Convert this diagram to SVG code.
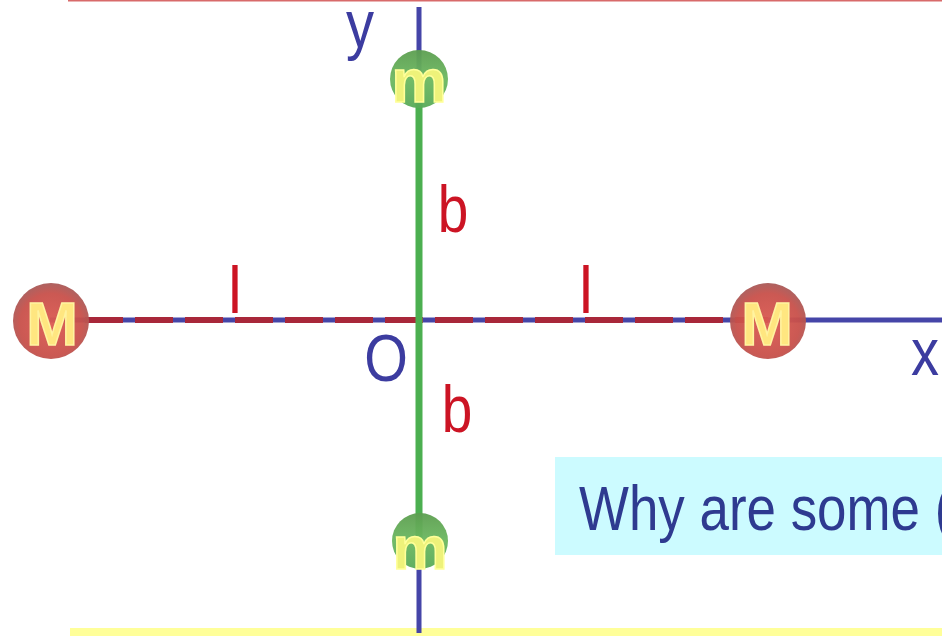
<svg xmlns="http://www.w3.org/2000/svg" width="942" height="636" viewBox="0 0 942 636">
<defs>
<radialGradient id="gM" cx="50%" cy="55%" r="55%">
<stop offset="0" stop-color="#dc5a52"/>
<stop offset="0.75" stop-color="#c8504a"/>
<stop offset="1" stop-color="#a85a58"/>
</radialGradient>
<linearGradient id="gm" x1="0" y1="0" x2="0" y2="1">
<stop offset="0" stop-color="#5c9e50"/>
<stop offset="0.5" stop-color="#6cb860"/>
<stop offset="1" stop-color="#58aa58"/>
</linearGradient>
<style>
.axis{stroke:#4545a8;stroke-width:5;fill:none}
.rod{stroke:#a8283a;stroke-width:6;stroke-dasharray:38 12;fill:none}
.grod{stroke:#4caf50;stroke-width:7;fill:none}
.big{font-family:"Liberation Sans",Arial,sans-serif;font-weight:bold;font-size:62px;fill:#ffe680;stroke:#fff3a0;stroke-width:1.5;text-anchor:middle}
.small{font-family:"Liberation Sans",Arial,sans-serif;font-weight:bold;font-size:62px;fill:#eef27a;stroke:#ffff9a;stroke-width:1.5;text-anchor:middle}
.red{font-family:"Liberation Sans",Arial,sans-serif;font-size:67px;fill:#cc1424;text-anchor:middle}
.blue{font-family:"Liberation Sans",Arial,sans-serif;font-size:66px;fill:#3c3ca0;text-anchor:middle}
.cap{font-family:"Liberation Sans",Arial,sans-serif;font-size:63px;fill:#2e3a90}
</style>
</defs>
<rect width="942" height="636" fill="#ffffff"/>
<line x1="68" y1="0.5" x2="942" y2="0.5" stroke="#d86a6a" stroke-width="2"/>
<rect x="70" y="628" width="872" height="8" fill="#ffff99"/>
<g id="connectors">
<line class="axis" x1="50" y1="320" x2="942" y2="320"/>
<line class="axis" x1="419" y1="7" x2="419" y2="633"/>
<line class="rod" x1="85" y1="320" x2="768" y2="320"/>
<line class="grod" x1="419" y1="80" x2="419" y2="541"/>
</g>
<g id="caption">
<rect x="555" y="457" width="387" height="98" fill="#ccfbff"/>
<text class="cap" transform="translate(579,530) scale(0.84,1)">Why are some (</text>
</g>
<g id="M-left">
<circle cx="51" cy="321" r="38" fill="url(#gM)" opacity="0.95"/>
<text class="big" x="52" y="345">M</text>
</g>
<g id="M-right">
<circle cx="768" cy="321" r="38" fill="url(#gM)" opacity="0.95"/>
<text class="big" x="767" y="345">M</text>
</g>
<g id="m-top">
<circle cx="419" cy="79" r="29" fill="url(#gm)" opacity="0.95"/>
<text class="small" x="419" y="102">m</text>
</g>
<g id="m-bottom">
<circle cx="420" cy="541" r="28" fill="url(#gm)" opacity="0.95"/>
<text class="small" x="420" y="569">m</text>
</g>
<g id="labels">
<text class="red" transform="translate(235,313) scale(0.9,1)" font-size="80">l</text>
<text class="red" transform="translate(586,313) scale(0.9,1)" font-size="80">l</text>
<text class="red" transform="translate(453,232) scale(0.82,1)">b</text>
<text class="red" transform="translate(457,432) scale(0.82,1)">b</text>
<text class="blue" transform="translate(360,47) scale(0.85,1)">y</text>
<text class="blue" transform="translate(925,375) scale(0.85,1)">x</text>
<text class="blue" transform="translate(386,381) scale(0.85,1)" font-size="61">O</text>
</g>
</svg>
